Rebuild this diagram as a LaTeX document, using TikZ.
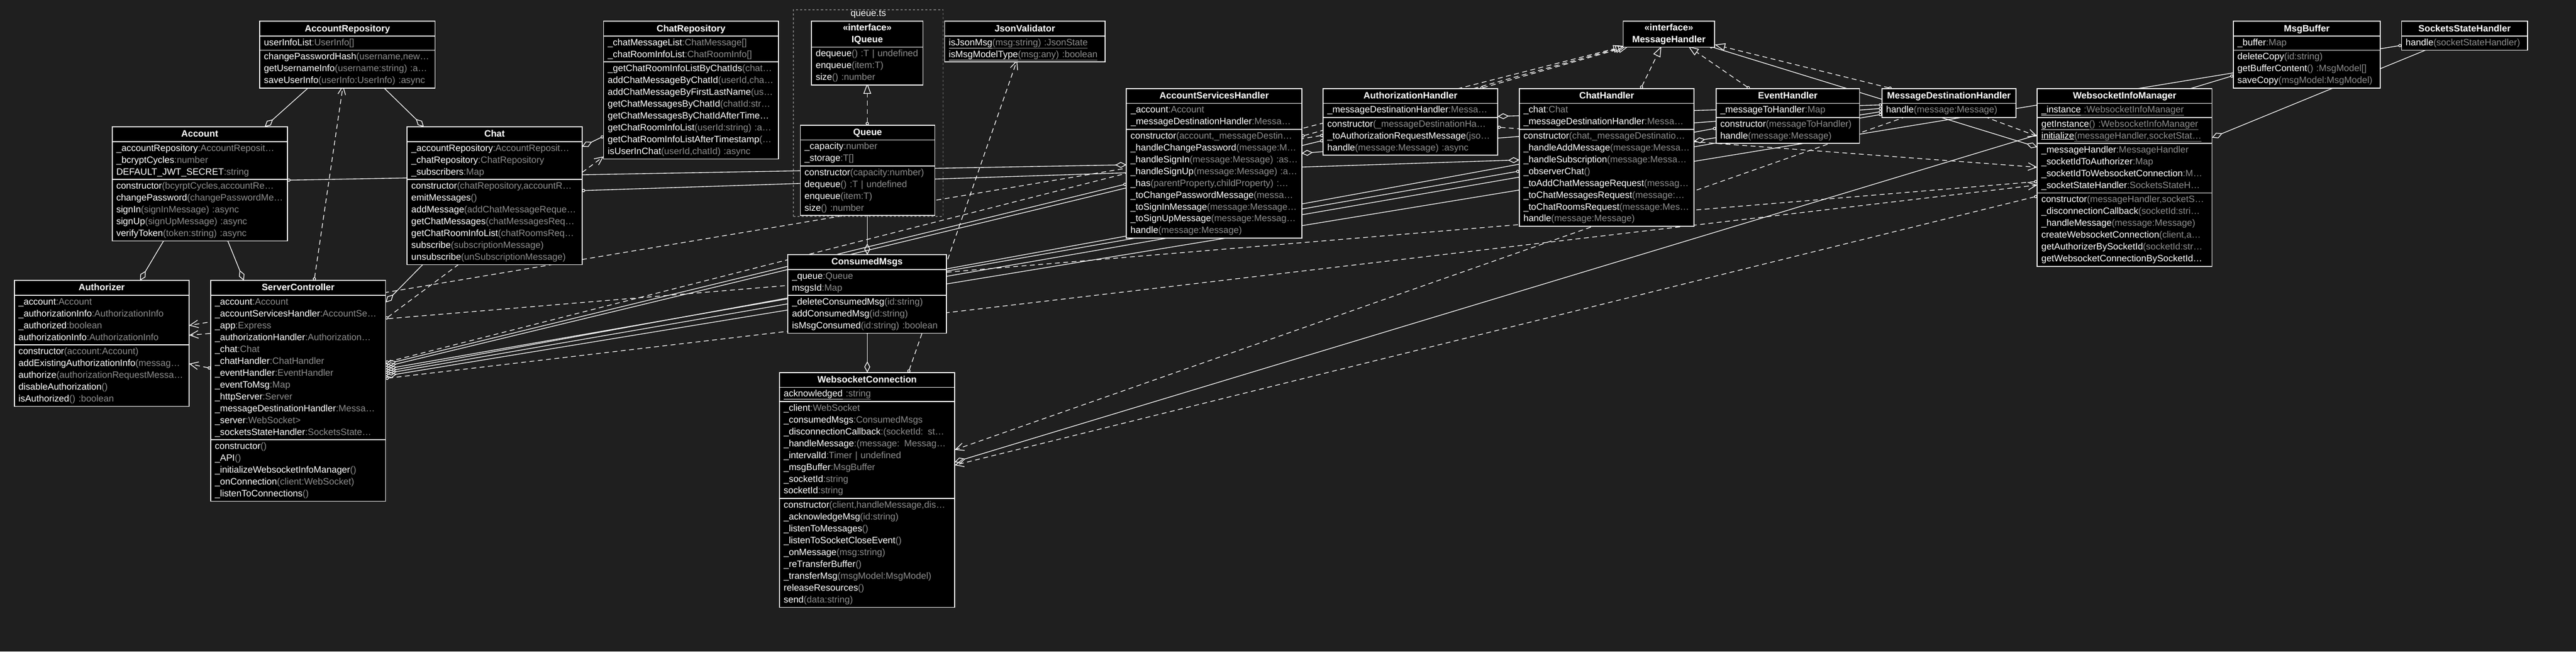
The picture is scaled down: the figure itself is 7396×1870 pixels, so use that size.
\documentclass[tikz,border=0pt]{standalone}
\usepackage{fontspec}
\setmainfont{Liberation Sans}
\usetikzlibrary{shapes.multipart,arrows.meta}

\definecolor{bgdark}{RGB}{31,31,31}
\definecolor{typegray}{RGB}{140,140,140}
\definecolor{sepgray}{RGB}{120,120,120}

\pgfdeclarelayer{background}
\pgfdeclarelayer{edges}
\pgfsetlayers{background,edges,main}

% rows of a class box: member name, then the grey rest
\newcommand\mrow[2]{\hbox{\color{white}\strut#1\textcolor{typegray}{#2}}\par}
\newcommand\srow[2]{\hbox{\color{white}\strut\underline{#1}\textcolor{typegray}{\underline{#2}}}\par}
\newcommand\ctitle[1]{\hbox to\hsize{\color{white}\hfil\vrule height 26pt depth 10pt width 0pt\bfseries#1\hfil}\par}
\newcommand\ititle[1]{\hbox to\hsize{\color{white}\hfil\strut\bfseries «interface»\hfil}\par\hbox to\hsize{\color{white}\hfil\strut\bfseries#1\hfil}\par}

\begin{document}
\begin{tikzpicture}[x=1pt,y=-1pt,font=\fontsize{26.5}{34}\selectfont,
		class node/.style = {rectangle split, rectangle split parts=#1, draw=sepgray, fill=black, text=white,
			line width=2.5pt, postaction={draw=white}, inner xsep=12pt, inner ysep=2pt, outer sep=0pt, anchor=north west},
		pkg node/.style = {draw=sepgray, line width=2pt, dash pattern=on 6pt off 6pt, anchor=north west, inner sep=0pt},
		agg edge/.style = {draw=white, line width=2pt, {Circle[length=9pt]}-{Diamond[open,length=32pt,width=17pt]}},
		dep edge/.style = {draw=white, line width=2pt, dash pattern=on 14pt off 10pt, {Circle[length=9pt]}-{Straight Barb[length=24pt,width=22pt]}},
		real edge/.style = {draw=white, line width=2pt, dash pattern=on 14pt off 10pt, {Circle[length=9pt]}-{Triangle[open,length=30pt,width=22pt]}}]
	
	\useasboundingbox (0,0) rectangle (7396,1870);
	\begin{pgfonlayer}{background}
		\fill[bgdark] (0,0) rectangle (7396,1870);
	\end{pgfonlayer}
	
	% queue.ts package
	\node[pkg node,minimum width=430pt,minimum height=593pt] (qpkg) at (2277,27) {};
	\node[anchor=north,text=white,inner sep=3pt] (qlabel) at (qpkg.north) {queue.ts};
	
	\node[class node=3,text width=479pt] (ar) at (746,61) {\ctitle{AccountRepository}
		\nodepart{two}\mrow{userInfoList}{ :UserInfo[]}
		\nodepart{three}\mrow{changePasswordHash}{(username,new…}\mrow{getUsernameInfo}{(username:string) :a…}\mrow{saveUserInfo}{(userInfo:UserInfo) :async}};
	
	\node[class node=3,text width=479pt] (acc) at (322,364) {\ctitle{Account}
		\nodepart{two}\mrow{\_accountRepository}{ :AccountReposit…}\mrow{\_bcryptCycles}{ :number}\mrow{DEFAULT\_JWT\_SECRET}{ :string}
		\nodepart{three}\mrow{constructor}{(bcyrptCycles,accountRe…}\mrow{changePassword}{(changePasswordMe…}\mrow{signIn}{(signInMessage) :async}\mrow{signUp}{(signUpMessage) :async}\mrow{verifyToken}{(token:string) :async}};
	
	\node[class node=3,text width=478pt] (aut) at (41,805) {\ctitle{Authorizer}
		\nodepart{two}\mrow{\_account}{ :Account}\mrow{\_authorizationInfo}{ :AuthorizationInfo}\mrow{\_authorized}{ :boolean}\mrow{authorizationInfo}{ :AuthorizationInfo}
		\nodepart{three}\mrow{constructor}{(account:Account)}\mrow{addExistingAuthorizationInfo}{(messag…}\mrow{authorize}{(authorizationRequestMessa…}\mrow{disableAuthorization}{()}\mrow{isAuthorized}{() :boolean}};
	
	\node[class node=3,text width=478pt] (sc) at (605,805) {\ctitle{ServerController}
		\nodepart{two}\mrow{\_account}{ :Account}\mrow{\_accountServicesHandler}{ :AccountSe…}\mrow{\_app}{ :Express}\mrow{\_authorizationHandler}{ :Authorization…}\mrow{\_chat}{ :Chat}\mrow{\_chatHandler}{ :ChatHandler}\mrow{\_eventHandler}{ :EventHandler}\mrow{\_eventToMsg}{ :Map}\mrow{\_httpServer}{ :Server}\mrow{\_messageDestinationHandler}{ :Messa…}\mrow{\_server}{ :WebSocket>}\mrow{\_socketsStateHandler}{ :SocketsState…}
		\nodepart{three}\mrow{constructor}{()}\mrow{\_API}{()}\mrow{\_initializeWebsocketInfoManager}{()}\mrow{\_onConnection}{(client:WebSocket)}\mrow{\_listenToConnections}{()}};
	
	\node[class node=3,text width=478pt] (ch) at (1169,364) {\ctitle{Chat}
		\nodepart{two}\mrow{\_accountRepository}{ :AccountReposit…}\mrow{\_chatRepository}{ :ChatRepository}\mrow{\_subscribers}{ :Map}
		\nodepart{three}\mrow{constructor}{(chatRepository,accountR…}\mrow{emitMessages}{()}\mrow{addMessage}{(addChatMessageReque…}\mrow{getChatMessages}{(chatMessagesReq…}\mrow{getChatRoomInfoList}{(chatRoomsReq…}\mrow{subscribe}{(subscriptionMessage)}\mrow{unsubscribe}{(unSubscriptionMessage)}};
	
	\node[class node=3,text width=478pt] (cr) at (1733,61) {\ctitle{ChatRepository}
		\nodepart{two}\mrow{\_chatMessageList}{ :ChatMessage[]}\mrow{\_chatRoomInfoList}{ :ChatRoomInfo[]}
		\nodepart{three}\mrow{\_getChatRoomInfoListByChatIds}{(chat…}\mrow{addChatMessageByChatId}{(userId,cha…}\mrow{addChatMessageByFirstLastName}{(us…}\mrow{getChatMessagesByChatId}{(chatId:str…}\mrow{getChatMessagesByChatIdAfterTime…}{}\mrow{getChatRoomInfoList}{(userId:string) :a…}\mrow{getChatRoomInfoListAfterTimestamp}{(…}\mrow{isUserInChat}{(userId,chatId) :async}};
	
	\node[class node=2,text width=296pt] (iq) at (2330,61) {\ititle{IQueue}
		\nodepart{two}\mrow{dequeue}{() :T | undefined}\mrow{enqueue}{(item:T)}\mrow{size}{() :number}};
	
	\node[class node=3,text width=362pt] (qu) at (2298,359) {\ctitle{Queue}
		\nodepart{two}\mrow{\_capacity}{ :number}\mrow{\_storage}{ :T[]}
		\nodepart{three}\mrow{constructor}{(capacity:number)}\mrow{dequeue}{() :T | undefined}\mrow{enqueue}{(item:T)}\mrow{size}{() :number}};
	
	\node[class node=2,text width=437pt] (jv) at (2712,61) {\ctitle{JsonValidator}
		\nodepart{two}\srow{isJsonMsg}{(msg:string) :JsonState}\srow{isMsgModelType}{(msg:any) :boolean}};
	
	\node[class node=3,text width=431pt] (cm) at (2262,731) {\ctitle{ConsumedMsgs}
		\nodepart{two}\mrow{\_queue}{ :Queue}\mrow{msgsId}{ :Map}
		\nodepart{three}\mrow{\_deleteConsumedMsg}{(id:string)}\mrow{addConsumedMsg}{(id:string)}\mrow{isMsgConsumed}{(id:string) :boolean}};
	
	\node[class node=4,text width=479pt] (wc) at (2238,1069) {\ctitle{WebsocketConnection}
		\nodepart{two}\srow{acknowledged}{ :string}
		\nodepart{three}\mrow{\_client}{ :WebSocket}\mrow{\_consumedMsgs}{ :ConsumedMsgs}\mrow{\_disconnectionCallback}{ :(socketId: st…}\mrow{\_handleMessage}{ :(message: Messag…}\mrow{\_intervalId}{ :Timer | undefined}\mrow{\_msgBuffer}{ :MsgBuffer}\mrow{\_socketId}{ :string}\mrow{socketId}{ :string}
		\nodepart{four}\mrow{constructor}{(client,handleMessage,dis…}\mrow{\_acknowledgeMsg}{(id:string)}\mrow{\_listenToMessages}{()}\mrow{\_listenToSocketCloseEvent}{()}\mrow{\_onMessage}{(msg:string)}\mrow{\_reTransferBuffer}{()}\mrow{\_transferMsg}{(msgModel:MsgModel)}\mrow{releaseResources}{()}\mrow{send}{(data:string)}};
	
	\node[class node=3,text width=479pt] (ash) at (3234,254) {\ctitle{AccountServicesHandler}
		\nodepart{two}\mrow{\_account}{ :Account}\mrow{\_messageDestinationHandler}{ :Messa…}
		\nodepart{three}\mrow{constructor}{(account,\_messageDestin…}\mrow{\_handleChangePassword}{(message:M…}\mrow{\_handleSignIn}{(message:Message) :as…}\mrow{\_handleSignUp}{(message:Message) :a…}\mrow{\_has}{(parentProperty,childProperty) :…}\mrow{\_toChangePasswordMessage}{(messa…}\mrow{\_toSignInMessage}{(message:Message…}\mrow{\_toSignUpMessage}{(message:Messag…}\mrow{handle}{(message:Message)}};
	
	\node[class node=3,text width=477pt] (auh) at (3799,254) {\ctitle{AuthorizationHandler}
		\nodepart{two}\mrow{\_messageDestinationHandler}{ :Messa…}
		\nodepart{three}\mrow{constructor}{(\_messageDestinationHa…}\mrow{\_toAuthorizationRequestMessage}{(jso…}\mrow{handle}{(message:Message) :async}};
	
	\node[class node=1,text width=239pt] (mh) at (4660,61) {\ititle{MessageHandler}};
	
	\node[class node=3,text width=478pt] (chh) at (4362,254) {\ctitle{ChatHandler}
		\nodepart{two}\mrow{\_chat}{ :Chat}\mrow{\_messageDestinationHandler}{ :Messa…}
		\nodepart{three}\mrow{constructor}{(chat,\_messageDestinatio…}\mrow{\_handleAddMessage}{(message:Messa…}\mrow{\_handleSubscription}{(message:Messa…}\mrow{\_observerChat}{()}\mrow{\_toAddChatMessageRequest}{(messag…}\mrow{\_toChatMessagesRequest}{(message:…}\mrow{\_toChatRoomsRequest}{(message:Mes…}\mrow{handle}{(message:Message)}};
	
	\node[class node=3,text width=388pt] (eh) at (4927,254) {\ctitle{EventHandler}
		\nodepart{two}\mrow{\_messageToHandler}{ :Map}
		\nodepart{three}\mrow{constructor}{(messageToHandler)}\mrow{handle}{(message:Message)}};
	
	\node[class node=2,text width=361pt] (mdh) at (5403,254) {\ctitle{MessageDestinationHandler}
		\nodepart{two}\mrow{handle}{(message:Message)}};
	
	\node[class node=5,text width=478pt] (wim) at (5849,254) {\ctitle{WebsocketInfoManager}
		\nodepart{two}\srow{\_instance}{ :WebsocketInfoManager}
		\nodepart{three}\srow{getInstance}{() :WebsocketInfoManager}\srow{initialize}{(messageHandler,socketStat…}
		\nodepart{four}\mrow{\_messageHandler}{ :MessageHandler}\mrow{\_socketIdToAuthorizer}{ :Map}\mrow{\_socketIdToWebsocketConnection}{ :M…}\mrow{\_socketStateHandler}{ :SocketsStateH…}
		\nodepart{five}\mrow{constructor}{(messageHandler,socketS…}\mrow{\_disconnectionCallback}{(socketId:stri…}\mrow{\_handleMessage}{(message:Message)}\mrow{createWebsocketConnection}{(client,a…}\mrow{getAuthorizerBySocketId}{(socketId:str…}\mrow{getWebsocketConnectionBySocketId…}{}};
	
	\node[class node=3,text width=398pt] (mb) at (6412,61) {\ctitle{MsgBuffer}
		\nodepart{two}\mrow{\_buffer}{ :Map}
		\nodepart{three}\mrow{deleteCopy}{(id:string)}\mrow{getBufferContent}{() :MsgModel[]}\mrow{saveCopy}{(msgModel:MsgModel)}};
	
	\node[class node=2,text width=338pt] (ssh) at (6895,61) {\ctitle{SocketsStateHandler}
		\nodepart{two}\mrow{handle}{(socketStateHandler)}};
	
	\begin{pgfonlayer}{edges}
		% aggregations
		\path ([shift={(147,184)}]ar.north west) edge[agg edge] ([shift={(438,0)}]acc.north west);
		\path ([shift={(349,184)}]ar.north west) edge[agg edge] ([shift={(48,0)}]ch.north west);
		\path ([shift={(152,320)}]acc.north west) edge[agg edge] ([shift={(361,0)}]aut.north west);
		\path ([shift={(329,320)}]acc.north west) edge[agg edge] ([shift={(95,0)}]sc.north west);
		\path ([shift={(503,153)}]acc.north west) edge[agg edge] ([shift={(0,219)}]ash.north west);
		\path ([shift={(0,330)}]cr.north west) edge[agg edge] ([shift={(502,57)}]ch.north west);
		\path ([shift={(52,388)}]ch.north west) edge[agg edge] ([shift={(502,63)}]sc.north west);
		\path ([shift={(502,183)}]ch.north west) edge[agg edge] ([shift={(0,205)}]chh.north west);
		\path ([shift={(192,252)}]qu.north west) edge[agg edge] ([shift={(228,0)}]cm.north west);
		\path ([shift={(228,218)}]cm.north west) edge[agg edge] ([shift={(252,0)}]wc.north west);
		\path ([shift={(0,156)}]mb.north west) edge[agg edge] ([shift={(503,257)}]wc.north west);
		\path ([shift={(81,78)}]ssh.north west) edge[agg edge] ([shift={(502,141)}]wim.north west);
		\path ([shift={(249,72)}]mh.north west) edge[agg edge] ([shift={(0,168)}]wim.north west);
		\path ([shift={(0,274)}]ash.north west) edge[agg edge] ([shift={(502,240)}]sc.north west);
		\path ([shift={(0,149)}]auh.north west) edge[agg edge] ([shift={(502,247)}]sc.north west);
		\path ([shift={(0,237)}]chh.north west) edge[agg edge] ([shift={(502,254)}]sc.north west);
		\path ([shift={(0,114)}]eh.north west) edge[agg edge] ([shift={(502,261)}]sc.north west);
		\path ([shift={(0,74)}]mdh.north west) edge[agg edge] ([shift={(502,267)}]sc.north west);
		\path ([shift={(0,69)}]ssh.north west) edge[agg edge] ([shift={(502,274)}]sc.north west);
		\path ([shift={(0,47)}]mdh.north west) edge[agg edge] ([shift={(501,80)}]auh.north west);
		\path ([shift={(0,57)}]mdh.north west) edge[agg edge] ([shift={(503,186)}]ash.north west);
		\path ([shift={(0,66)}]mdh.north west) edge[agg edge] ([shift={(502,151)}]chh.north west);
		
		% realizations
		\path ([shift={(503,137)}]ash.north west) edge[real edge] ([shift={(8,72)}]mh.north west);
		\path ([shift={(451,0)}]auh.north west) edge[real edge] ([shift={(16,72)}]mh.north west);
		\path ([shift={(349,0)}]chh.north west) edge[real edge] ([shift={(110,72)}]mh.north west);
		\path ([shift={(96,0)}]eh.north west) edge[real edge] ([shift={(187,72)}]mh.north west);
		\path ([shift={(28,0)}]mdh.north west) edge[real edge] ([shift={(263,67)}]mh.north west);
		\path ([shift={(502,235)}]sc.north west) edge[real edge] ([shift={(2,72)}]mh.north west);
		\path ([shift={(192,0)}]qu.north west) edge[real edge] ([shift={(160,178)}]iq.north west);
		
		% dependencies
		\path ([shift={(297,0)}]sc.north west) edge[dep edge] ([shift={(239,184)}]ar.north west);
		\path ([shift={(502,110)}]sc.north west) edge[dep edge] ([shift={(0,388)}]cr.north west);
		\path ([shift={(0,267)}]wim.north west) edge[dep edge] ([shift={(502,157)}]aut.north west);
		\path ([shift={(0,134)}]auh.north west) edge[dep edge] ([shift={(502,129)}]aut.north west);
		\path ([shift={(0,252)}]sc.north west) edge[dep edge] ([shift={(502,239)}]aut.north west);
		\path ([shift={(502,281)}]sc.north west) edge[dep edge] ([shift={(0,277)}]wim.north west);
		\path ([shift={(0,309)}]wim.north west) edge[dep edge] ([shift={(503,266)}]wc.north west);
		\path ([shift={(78,78)}]mdh.north west) edge[dep edge] ([shift={(503,222)}]wc.north west);
		\path ([shift={(370,0)}]wc.north west) edge[dep edge] ([shift={(208,112)}]jv.north west);
		\path ([shift={(287,78)}]mdh.north west) edge[dep edge] ([shift={(0,137)}]wim.north west);
		\path ([shift={(501,111)}]auh.north west) edge[dep edge] ([shift={(0,226)}]wim.north west);
	\end{pgfonlayer}
	
\end{tikzpicture}
\end{document}
